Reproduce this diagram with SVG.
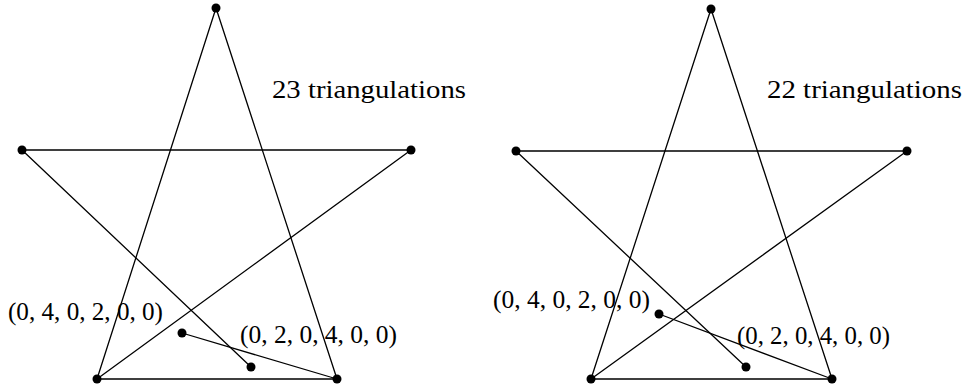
<svg xmlns="http://www.w3.org/2000/svg" width="966" height="389" viewBox="0 0 966 389">
<style>
.e{stroke:#000;stroke-width:1.3;fill:none;stroke-linecap:round}
.d{fill:#000}
text{font-family:"Liberation Serif","Times New Roman",serif;font-size:26px;fill:#000}
</style>
<rect width="966" height="389" fill="#fff"/>
<g id="connectors">
<g id="left-edges" class="e">
<line x1="216" y1="8" x2="97" y2="379"/>
<line x1="216" y1="8" x2="337" y2="379"/>
<line x1="22" y1="150" x2="411" y2="150"/>
<line x1="22" y1="150" x2="251" y2="367"/>
<line x1="411" y1="150" x2="97" y2="379"/>
<line x1="97" y1="379" x2="337" y2="379"/>
<line x1="182" y1="333" x2="337" y2="379"/>
</g>
<g id="right-edges" class="e">
<line x1="711" y1="9" x2="591" y2="379"/>
<line x1="711" y1="9" x2="832" y2="379"/>
<line x1="516" y1="151" x2="907" y2="151"/>
<line x1="516" y1="151" x2="746" y2="367"/>
<line x1="907" y1="151" x2="591" y2="379"/>
<line x1="591" y1="379" x2="832" y2="379"/>
<line x1="659" y1="314" x2="832" y2="379"/>
</g>
</g>
<g id="L-top"><circle class="d" cx="216" cy="8" r="4.5"/></g>
<g id="L-left"><circle class="d" cx="22" cy="150" r="4.5"/></g>
<g id="L-right"><circle class="d" cx="411" cy="150" r="4.5"/></g>
<g id="L-bl"><circle class="d" cx="97" cy="379" r="4.5"/></g>
<g id="L-br"><circle class="d" cx="337" cy="379" r="4.5"/></g>
<g id="L-a"><circle class="d" cx="182" cy="333" r="4.5"/></g>
<g id="L-b"><circle class="d" cx="251" cy="367" r="4.5"/></g>
<g id="R-top"><circle class="d" cx="711" cy="9" r="4.5"/></g>
<g id="R-left"><circle class="d" cx="516" cy="151" r="4.5"/></g>
<g id="R-right"><circle class="d" cx="907" cy="151" r="4.5"/></g>
<g id="R-bl"><circle class="d" cx="591" cy="379" r="4.5"/></g>
<g id="R-br"><circle class="d" cx="832" cy="379" r="4.5"/></g>
<g id="R-a"><circle class="d" cx="659" cy="314" r="4.5"/></g>
<g id="R-b"><circle class="d" cx="746" cy="367" r="4.5"/></g>
<g id="labels">
<text x="272" y="98" textLength="194" lengthAdjust="spacingAndGlyphs">23 triangulations</text>
<text x="767" y="98" textLength="195" lengthAdjust="spacingAndGlyphs">22 triangulations</text>
<text x="8" y="320" textLength="155" lengthAdjust="spacingAndGlyphs">(0, 4, 0, 2, 0, 0)</text>
<text x="240" y="343" textLength="157" lengthAdjust="spacingAndGlyphs">(0, 2, 0, 4, 0, 0)</text>
<text x="493" y="308" textLength="157" lengthAdjust="spacingAndGlyphs">(0, 4, 0, 2, 0, 0)</text>
<text x="737" y="344" textLength="153" lengthAdjust="spacingAndGlyphs">(0, 2, 0, 4, 0, 0)</text>
</g>
</svg>
